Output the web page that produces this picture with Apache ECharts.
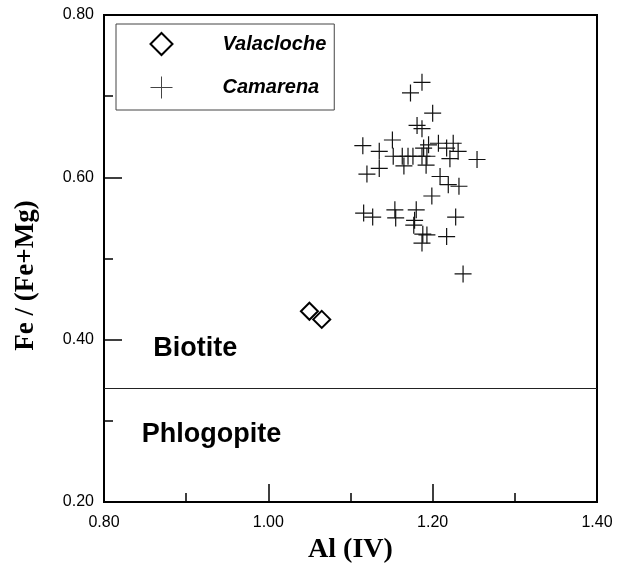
<!DOCTYPE html>
<html>
<head>
<meta charset="utf-8">
<script src="https://cdn.jsdelivr.net/npm/echarts@6/dist/echarts.min.js"></script>
<style>
    html, body {margin: 0; padding: 0; background: #fff;}
    #mica {width: 624px; height: 564px;}
</style>
</head>
<body>
<div id="mica"></div>
<script>
var dom = document.getElementById("mica");
var myChart = echarts.init(dom, null, {renderer: 'canvas'});

// Valacloche samples
var valaclocheAl = [1.050, 1.065];
var valaclocheFe = [0.435, 0.425];

// Camarena samples
var camarenaAl = [1.187, 1.173, 1.200, 1.181, 1.187, 1.115, 1.151, 1.135, 1.195, 1.207,
    1.225, 1.217, 1.231, 1.189, 1.152, 1.163, 1.170, 1.176, 1.187, 1.193,
    1.254, 1.221, 1.120, 1.135, 1.165, 1.192, 1.209, 1.219, 1.232, 1.199,
    1.116, 1.127, 1.154, 1.155, 1.180, 1.177, 1.178, 1.188, 1.193, 1.228,
    1.217, 1.187, 1.237];
var camarenaFe = [0.717, 0.704, 0.679, 0.664, 0.660, 0.639, 0.646, 0.632, 0.640, 0.642,
    0.642, 0.636, 0.632, 0.636, 0.626, 0.626, 0.626, 0.626, 0.626, 0.626,
    0.622, 0.623, 0.604, 0.611, 0.614, 0.615, 0.601, 0.591, 0.589, 0.577,
    0.556, 0.551, 0.560, 0.550, 0.560, 0.541, 0.547, 0.530, 0.529, 0.551,
    0.527, 0.519, 0.481];

// biotite / phlogopite boundary and field names
var boundaryFe = 0.335;
var regionNames = ['Biotite', 'Phlogopite'];
var regionAl = [0.860, 0.846];
var regionFe = [0.391, 0.285];

var crossPath = 'path://M0,8L16,8M8,0L8,16';

var zip = function (xs, ys) {
    var res = [];
    for (var i = 0; i < xs.length; i++) {
        res.push([xs[i], ys[i]]);
    }
    return res;
};

var regionData = regionNames.map(function (n, i) {
    return {name: n, value: [regionAl[i], regionFe[i]]};
});

var option = {
    animation: false,
    textStyle: {fontFamily: 'Liberation Sans'},
    grid: {
        left: 104, right: 27, top: 15, bottom: 62,
        outerBoundsMode: 'none',
        containLabel: false,
        show: true,
        borderColor: '#000',
        borderWidth: 2
    },
    legend: {
        orient: 'vertical',
        left: 116,
        top: 24,
        padding: [8, 8, 9, 32],
        itemGap: 18,
        itemWidth: 22,
        itemHeight: 22,
        borderColor: '#444',
        borderWidth: 1,
        backgroundColor: '#fff',
        selectedMode: false,
        textStyle: {
            fontFamily: 'Liberation Sans',
            fontStyle: 'italic',
            fontWeight: 'bold',
            fontSize: 20,
            lineHeight: 22,
            color: '#000',
            padding: [0, 0, 0, 45]
        },
        data: [
            {name: 'Valacloche', itemStyle: {borderWidth: 2, borderColor: '#000'}},
            {name: 'Camarena', itemStyle: {borderWidth: 1, borderColor: '#444'}}
        ]
    },
    xAxis: {
        type: 'value',
        min: 0.8,
        max: 1.4,
        interval: 0.2,
        name: 'Al (IV)',
        nameLocation: 'middle',
        nameGap: 32,
        nameTextStyle: {fontFamily: 'Liberation Serif', fontWeight: 'bold', fontSize: 28, color: '#000'},
        axisLine: {lineStyle: {color: '#000', width: 2}},
        axisTick: {inside: true, length: 18, lineStyle: {color: '#000', width: 1.5}},
        minorTick: {show: true, splitNumber: 2, length: 9, lineStyle: {color: '#000', width: 1.5}},
        splitLine: {show: false},
        axisLabel: {
            margin: 13,
            fontSize: 16,
            color: '#000',
            formatter: function (v) { return v.toFixed(2); }
        }
    },
    yAxis: {
        type: 'value',
        min: 0.2,
        max: 0.8,
        interval: 0.2,
        name: 'Fe / (Fe+Mg)',
        nameLocation: 'middle',
        nameGap: 64,
        nameTextStyle: {fontFamily: 'Liberation Serif', fontWeight: 'bold', fontSize: 27, color: '#000', padding: [0, 34, 0, 0]},
        axisLine: {lineStyle: {color: '#000', width: 2}},
        axisTick: {inside: true, length: 18, lineStyle: {color: '#000', width: 1.5}},
        minorTick: {show: true, splitNumber: 2, length: 9, lineStyle: {color: '#000', width: 1.5}},
        splitLine: {show: false},
        axisLabel: {
            margin: 10,
            fontSize: 16,
            color: '#000',
            formatter: function (v) { return v.toFixed(2); }
        }
    },
    series: [
        {
            name: 'fields',
            type: 'scatter',
            symbolSize: 0,
            silent: true,
            z: 1,
            itemStyle: {opacity: 1},
            label: {
                show: true,
                position: 'right',
                distance: 0,
                offset: [0, 2],
                fontFamily: 'Liberation Sans',
                fontWeight: 'bold',
                fontSize: 27,
                color: '#000',
                formatter: '{b}'
            },
            markLine: {
                silent: true,
                symbol: 'none',
                label: {show: false},
                lineStyle: {color: '#222', width: 1, type: 'solid'},
                data: [{yAxis: boundaryFe}]
            },
            data: regionData
        },
        {
            name: 'Valacloche',
            type: 'scatter',
            symbol: 'diamond',
            symbolSize: 17,
            z: 3,
            itemStyle: {color: '#fff', borderColor: '#000', borderWidth: 2, opacity: 1},
            data: zip(valaclocheAl, valaclocheFe)
        },
        {
            name: 'Camarena',
            type: 'scatter',
            symbol: crossPath,
            symbolSize: 17,
            z: 3,
            itemStyle: {color: 'none', borderColor: '#111', borderWidth: 1.2, opacity: 1},
            data: zip(camarenaAl, camarenaFe)
        }
    ]
};

if (option && typeof option === "object") {
    myChart.setOption(option, true);
}
</script>
</body>
</html>
